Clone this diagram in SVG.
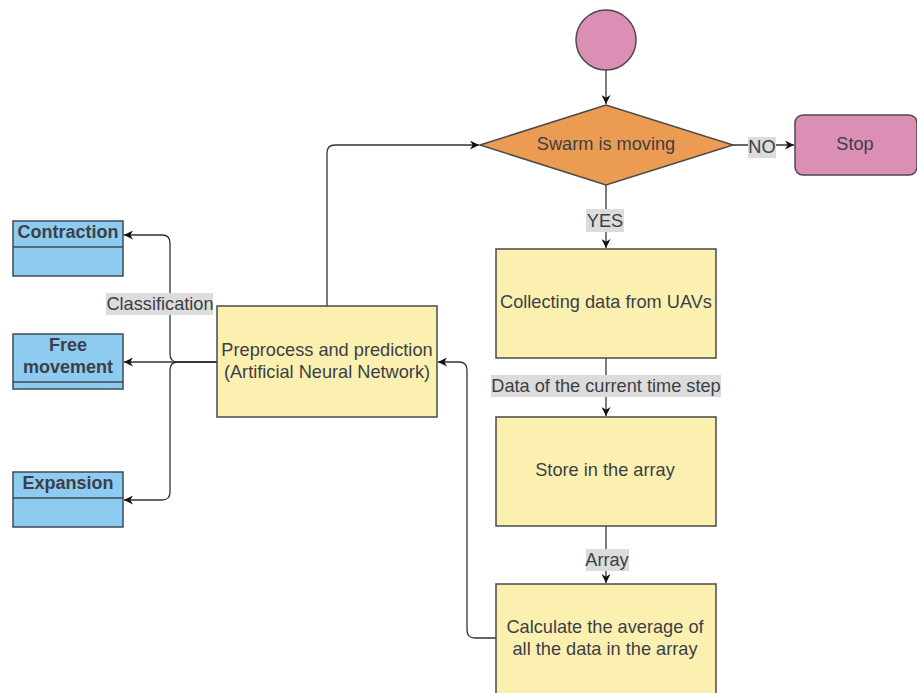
<svg xmlns="http://www.w3.org/2000/svg" width="917" height="693" viewBox="0 0 917 693">
<defs>
<marker id="arr" viewBox="0 0 10 10" refX="10" refY="5" markerWidth="9" markerHeight="9" markerUnits="userSpaceOnUse" orient="auto">
<path d="M0,0 L10,5 L0,10 L3,5 z" fill="#111"/>
</marker>
<style>
.t{font-family:"Liberation Sans",Arial,sans-serif;font-size:18.2px;fill:#3b3f47;text-anchor:middle;dominant-baseline:central}
.b{font-weight:bold;font-size:18px}
.ln{fill:none;stroke:#333;stroke-width:1.3}
.lb{fill:#dcdcdc}
.y{fill:#fcf0b0;stroke:#4a4a4a;stroke-width:1.5}
.bl{fill:#8ecbf0;stroke:#3f4a55;stroke-width:1.5}
</style>
</defs>
<rect width="917" height="693" fill="#fff"/>
<g id="connectors">
<path class="ln" d="M606,70 V104" marker-end="url(#arr)"/>
<path class="ln" d="M733,145 H794" marker-end="url(#arr)"/>
<path class="ln" d="M606,185 V248" marker-end="url(#arr)"/>
<path class="ln" d="M606,358 V416" marker-end="url(#arr)"/>
<path class="ln" d="M606,526 V583" marker-end="url(#arr)"/>
<path class="ln" d="M327,306 V153 Q327,145 335,145 H479" marker-end="url(#arr)"/>
<path class="ln" d="M496,638 H475 Q467,638 467,630 V370 Q467,362 459,362 H438" marker-end="url(#arr)"/>
<path class="ln" d="M217,362 H124" marker-end="url(#arr)"/>
<path class="ln" d="M217,362 H178 Q170,362 170,354 V243 Q170,235 162,235 H124" marker-end="url(#arr)"/>
<path class="ln" d="M217,362 H178 Q170,362 170,370 V492 Q170,500 162,500 H124" marker-end="url(#arr)"/>
<rect class="lb" x="748" y="137" width="28" height="21"/>
<text class="t" x="762" y="147">NO</text>
<rect class="lb" x="586" y="209" width="38" height="23"/>
<text class="t" x="605" y="221">YES</text>
<rect class="lb" x="491" y="375" width="230" height="22"/>
<text class="t" x="606" y="386">Data of the current time step</text>
<rect class="lb" x="586" y="549" width="43" height="22"/>
<text class="t" x="607" y="560">Array</text>
<rect class="lb" x="106" y="293" width="107" height="22"/>
<text class="t" x="160" y="304">Classification</text>
</g>
<g id="start"><circle cx="606" cy="40" r="30" fill="#dc8fb4" stroke="#4a4a4a" stroke-width="1.5"/></g>
<g id="decision"><polygon points="480,145 606,105 733,145 606,185" fill="#ec9b52" stroke="#4a4a4a" stroke-width="1.5"/><text class="t" x="606" y="144">Swarm is moving</text></g>
<g id="stop"><rect x="795" y="115" width="122" height="60" rx="8" fill="#dc8fb4" stroke="#4a4a4a" stroke-width="1.5"/><text class="t" x="855" y="144">Stop</text></g>
<g id="collect"><rect class="y" x="496" y="249" width="220" height="109"/><text class="t" x="606" y="302">Collecting data from UAVs</text></g>
<g id="store"><rect class="y" x="496" y="417" width="220" height="109"/><text class="t" x="605" y="470">Store in the array</text></g>
<g id="calc"><rect class="y" x="496" y="584" width="220" height="120"/><text class="t" x="605" y="627">Calculate the average of</text><text class="t" x="605" y="649">all the data in the array</text></g>
<g id="preprocess"><rect class="y" x="217" y="306" width="220" height="111"/><text class="t" x="327" y="350">Preprocess and prediction</text><text class="t" x="327" y="372">(Artificial Neural Network)</text></g>
<g id="contraction"><rect class="bl" x="13" y="221" width="110" height="55"/><line x1="13" y1="247" x2="123" y2="247" stroke="#3f4a55" stroke-width="1.5"/><text class="t b" x="68" y="232">Contraction</text></g>
<g id="free"><rect class="bl" x="13" y="334" width="110" height="55"/><line x1="13" y1="382" x2="123" y2="382" stroke="#3f4a55" stroke-width="1.5"/><text class="t b" x="68" y="345">Free</text><text class="t b" x="68" y="367">movement</text></g>
<g id="expansion"><rect class="bl" x="13" y="472" width="110" height="55"/><line x1="13" y1="498" x2="123" y2="498" stroke="#3f4a55" stroke-width="1.5"/><text class="t b" x="68" y="483">Expansion</text></g>
</svg>
